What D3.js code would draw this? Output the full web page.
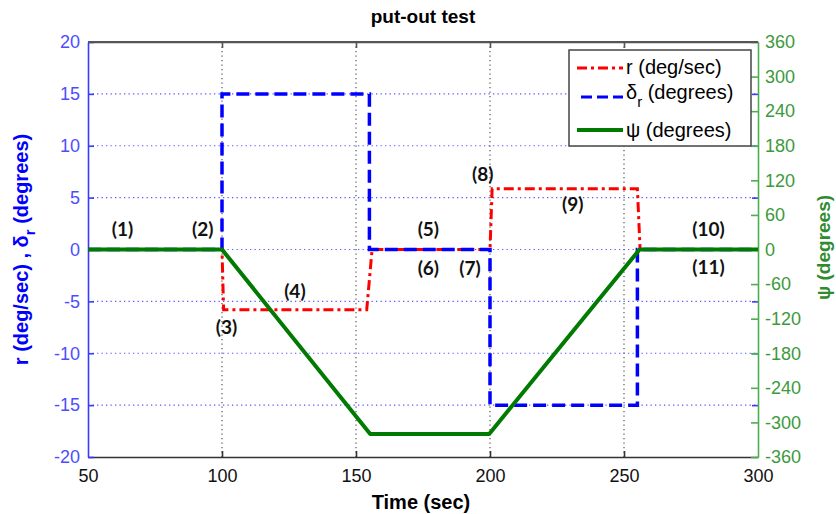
<!DOCTYPE html>
<html>
<head>
<meta charset="utf-8">
<script src="https://cdn.jsdelivr.net/npm/d3@7"></script>
<style>
  html, body { margin: 0; padding: 0; background: #fff; }
  svg { display: block; font-family: "Liberation Sans", Arial, sans-serif; }
</style>
</head>
<body>
<svg id="chart" width="836" height="514"></svg>
<script>
// axis ticks
const timeTicks = [50, 100, 150, 200, 250, 300];
const leftTicks = [-20, -15, -10, -5, 0, 5, 10, 15, 20];
const rightTicks = [-360, -300, -240, -180, -120, -60, 0, 60, 120, 180, 240, 300, 360];

// r (deg/sec)
const rTime = [50, 100, 100.6, 154, 156, 200, 200.8, 255, 256, 300];
const rValues = [0, 0, -5.8, -5.8, 0, 0, 5.85, 5.85, 0, 0];

// delta_r (degrees)
const deltaTime = [50, 100, 100, 155, 155, 200, 200, 255, 255, 300];
const deltaValues = [0, 0, 15, 15, 0, 0, -15, -15, 0, 0];

// psi (degrees), right axis
const psiTime = [50, 100, 155.3, 199.7, 255.8, 300];
const psiValues = [0, 0, -320, -320, 0, 0];

// phase labels
const phaseText = ['(1)', '(2)', '(3)', '(4)', '(5)', '(6)', '(7)', '(8)', '(9)', '(10)', '(11)'];
const phaseTime = [62.9, 92.8, 101.7, 127.2, 177, 177, 192.5, 197.3, 230.9, 281.5, 281.5];
const phaseValue = [2.07, 2.07, -7.4, -3.97, 2.04, -1.7, -1.7, 7.35, 4.45, 2.04, -1.66];

const MARGIN = { top: 42, right: 78, bottom: 57, left: 88 };
const W = 836, H = 514;
const width = W - MARGIN.left - MARGIN.right;
const height = H - MARGIN.top - MARGIN.bottom;

const BLUE_TXT = '#4d4dff';
const GREEN_TXT = '#3c9a3c';

const svg = d3.select('#chart');
const g = svg.append('g').attr('transform', `translate(${MARGIN.left},${MARGIN.top})`);

const x = d3.scaleLinear().domain([50, 300]).range([0, width]);
const yL = d3.scaleLinear().domain([-20, 20]).range([height, 0]);
const yR = d3.scaleLinear().domain([-360, 360]).range([height, 0]);

// grid
g.append('g').selectAll('line')
  .data(leftTicks.filter(d => d > -20 && d < 20))
  .join('line')
  .attr('x1', 0).attr('x2', width)
  .attr('y1', d => yL(d)).attr('y2', d => yL(d))
  .attr('stroke', '#5a5aff').attr('stroke-width', 1.2)
  .attr('stroke-dasharray', '1.3,3.2');

g.append('g').selectAll('line')
  .data(timeTicks.filter(d => d > 50 && d < 300))
  .join('line')
  .attr('x1', d => x(d)).attr('x2', d => x(d))
  .attr('y1', 0).attr('y2', height)
  .attr('stroke', '#555').attr('stroke-width', 1.2)
  .attr('stroke-dasharray', '1.3,3.2');

// axes
function styleAxis(sel, color, textColor, size) {
  sel.select('.domain').attr('stroke', color).attr('stroke-width', 1.6);
  sel.selectAll('.tick line').attr('stroke', color).attr('stroke-width', 1.6);
  sel.selectAll('.tick text').attr('fill', textColor).style('font-size', size + 'px');
}

const xAxis = g.append('g').attr('transform', `translate(0,${height})`)
  .call(d3.axisBottom(x).tickValues(timeTicks).tickSize(-6).tickSizeOuter(0).tickPadding(12));
styleAxis(xAxis, '#333', '#111', 18);
xAxis.selectAll('.tick').filter(d => d === 50 || d === 300).select('line').remove();

const xTop = g.append('g')
  .call(d3.axisTop(x).tickValues(timeTicks.filter(d => d > 50 && d < 300)).tickSize(-6).tickSizeOuter(0).tickFormat(''));
styleAxis(xTop, '#555', '#111', 18);

const leftAxis = g.append('g')
  .call(d3.axisLeft(yL).tickValues(leftTicks).tickSize(-6).tickSizeOuter(0).tickPadding(8));
styleAxis(leftAxis, '#3a3aff', BLUE_TXT, 18);

const leftMirror = g.append('g').attr('transform', `translate(${width},0)`)
  .call(d3.axisRight(yL).tickValues(leftTicks.filter(d => d > -20 && d < 20)).tickSize(-6).tickSizeOuter(0).tickFormat(''));
styleAxis(leftMirror, '#3a3aff', BLUE_TXT, 18);
leftMirror.select('.domain').remove();

const rightAxis = g.append('g').attr('transform', `translate(${width},0)`)
  .call(d3.axisRight(yR).tickValues(rightTicks).tickSize(-7).tickSizeOuter(0).tickPadding(7));
styleAxis(rightAxis, '#4caf50', GREEN_TXT, 18);
rightAxis.selectAll('.tick text').text(d => d < 0 ? '-' + Math.abs(d) : d);
leftAxis.selectAll('.tick text').text(d => d < 0 ? '-' + Math.abs(d) : d);

// series
const plot = g.append('g');
const lineL = d3.line().x(d => x(d[0])).y(d => yL(d[1]));
const lineR = d3.line().x(d => x(d[0])).y(d => yR(d[1]));

plot.append('path')
  .attr('d', lineL(d3.zip(rTime, rValues)))
  .attr('fill', 'none').attr('stroke', '#ff0000').attr('stroke-width', 3)
  .attr('stroke-dasharray', '10,4,3,4');

plot.append('path')
  .attr('d', lineL(d3.zip(deltaTime, deltaValues)))
  .attr('fill', 'none').attr('stroke', '#0000ff').attr('stroke-width', 3.5)
  .attr('stroke-dasharray', '13,6');

plot.append('path')
  .attr('d', lineR(d3.zip(psiTime, psiValues)))
  .attr('fill', 'none').attr('stroke', '#007a00').attr('stroke-width', 4)
  .attr('stroke-linejoin', 'round');

// phase labels
g.append('g').selectAll('text')
  .data(d3.zip(phaseText, phaseTime, phaseValue))
  .join('text')
  .attr('x', d => x(d[1]))
  .attr('y', d => yL(d[2]))
  .attr('text-anchor', 'middle')
  .attr('dominant-baseline', 'central')
  .style('font-family', 'Lato, "Open Sans", sans-serif')
  .style('font-weight', 'bold')
  .style('font-size', '19px')
  .attr('fill', '#111')
  .text(d => d[0]);

// top border line
g.append('line').attr('x1', 0).attr('x2', width).attr('y1', 0).attr('y2', 0)
  .attr('stroke', '#555').attr('stroke-width', 1.8);

// legend
const legend = g.append('g').attr('transform', `translate(${569 - MARGIN.left},${50 - MARGIN.top})`);
legend.append('rect').attr('width', 182).attr('height', 96)
  .attr('fill', '#fff').attr('stroke', '#444').attr('stroke-width', 1.5);
const legendRows = [
  { y: 18, color: '#ff0000', dash: '10,4,3,4', w: 3, x1: 8 },
  { y: 47, color: '#0000ff', dash: '11,5', w: 3, x1: 12 },
  { y: 80, color: '#007a00', dash: null, w: 4, x1: 8 }
];
legendRows.forEach(r => {
  legend.append('line').attr('x1', r.x1).attr('x2', 54).attr('y1', r.y).attr('y2', r.y)
    .attr('stroke', r.color).attr('stroke-width', r.w)
    .attr('stroke-dasharray', r.dash);
});
const lt = legend.append('g').style('font-size', '20px').attr('fill', '#000');
lt.append('text').attr('x', 57).attr('y', 24).text('r (deg/sec)');
const l2 = lt.append('text').attr('x', 57).attr('y', 49);
l2.append('tspan').text('δ');
l2.append('tspan').attr('dy', 8).style('font-size', '15px').text('r');
l2.append('tspan').attr('dy', -8).text(' (degrees)');
lt.append('text').attr('x', 57).attr('y', 87).text('ψ (degrees)');

// titles
svg.append('text').attr('x', MARGIN.left + width / 2).attr('y', 23)
  .attr('text-anchor', 'middle').style('font-weight', 'bold').style('font-size', '19px')
  .text('put-out test');

svg.append('text').attr('x', MARGIN.left + width / 2 - 2).attr('y', 509)
  .attr('text-anchor', 'middle').style('font-weight', 'bold').style('font-size', '20px')
  .text('Time (sec)');

const yl = svg.append('text')
  .attr('transform', `translate(28,${MARGIN.top + height / 2}) rotate(-90)`)
  .attr('text-anchor', 'middle').style('font-weight', 'bold').style('font-size', '20px')
  .attr('fill', '#0000ff');
yl.append('tspan').text('r (deg/sec) , δ');
yl.append('tspan').attr('dy', 7).style('font-size', '15px').text('r');
yl.append('tspan').attr('dy', -7).text(' (degrees)');

svg.append('text')
  .attr('transform', `translate(830,${MARGIN.top + height / 2 - 2}) rotate(-90)`)
  .attr('text-anchor', 'middle').style('font-weight', 'bold').style('font-size', '19px')
  .attr('fill', '#2e8b2e')
  .text('ψ (degrees)');
</script>
</body>
</html>
